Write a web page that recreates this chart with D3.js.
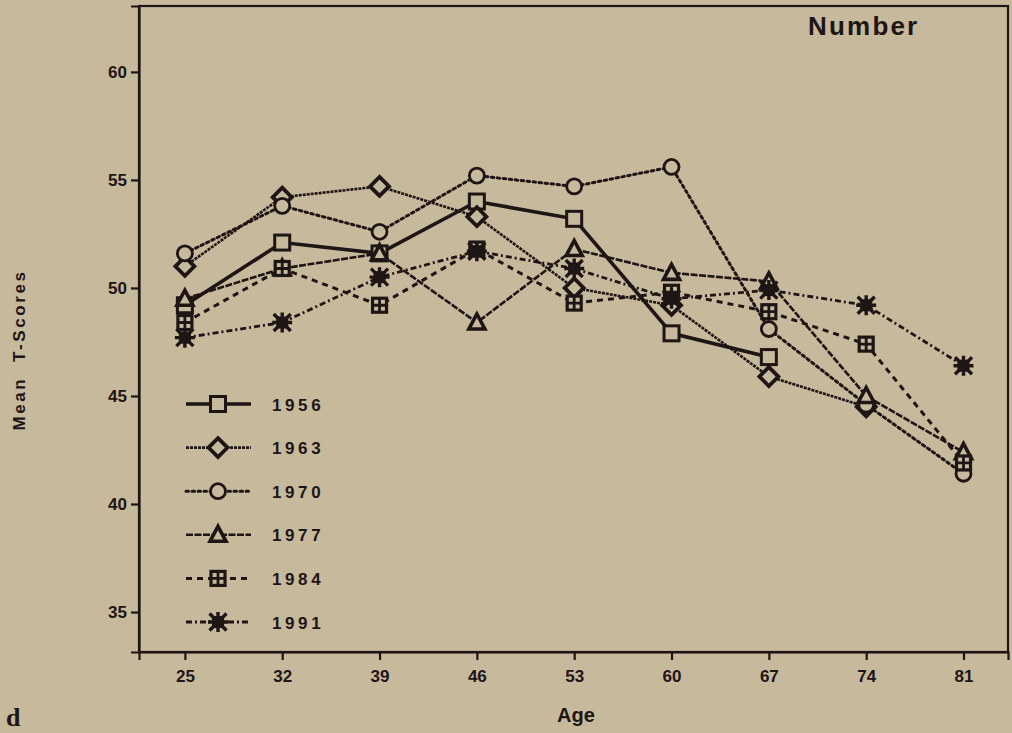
<!DOCTYPE html>
<html>
<head>
<meta charset="utf-8">
<style>
  body { margin: 0; background: #c6b99c; }
  svg { display: block; }
  text { font-family: "Liberation Sans", Arial, sans-serif; font-weight: bold; fill: #1e1515; }
</style>
</head>
<body>
<svg width="1012" height="733"></svg>
<script src="https://d3js.org/d3.v7.min.js"></script>
<script>

// ages at measurement, one column per tick
const ages = [25, 32, 39, 46, 53, 60, 67, 74, 81];
const yTicks = [35, 40, 45, 50, 55, 60];

// mean T-scores per cohort year (null = not measured)
const years = ["1956", "1963", "1970", "1977", "1984", "1991"];
const s1956 = [49.2, 52.1, 51.6, 54.0, 53.2, 47.9, 46.8, null, null];
const s1963 = [51.0, 54.2, 54.7, 53.3, 50.0, 49.2, 45.9, 44.5, null];
const s1970 = [51.6, 53.8, 52.6, 55.2, 54.7, 55.6, 48.1, 44.6, 41.4];
const s1977 = [49.5, 50.9, 51.6, 48.4, 51.8, 50.7, 50.3, 45.0, 42.4];
const s1984 = [48.4, 50.9, 49.2, 51.8, 49.3, 49.8, 48.9, 47.4, 41.9];
const s1991 = [47.7, 48.4, 50.5, 51.7, 50.9, 49.5, 49.9, 49.2, 46.4];

const ink = "#1e1515";
const bg = "#c6b99c";

const series = [
  { name: years[0], values: s1956, marker: "square",   dash: null,        width: 3.6 },
  { name: years[1], values: s1963, marker: "diamond",  dash: "3,1",       width: 2.6 },
  { name: years[2], values: s1970, marker: "circle",   dash: "2.5,3.5",   width: 3 },
  { name: years[3], values: s1977, marker: "triangle", dash: "7,1.5",     width: 2.6 },
  { name: years[4], values: s1984, marker: "boxcross", dash: "6,5",       width: 3 },
  { name: years[5], values: s1991, marker: "star",     dash: "6,3,2,3",   width: 2.8 },
];

const svg = d3.select("svg");

const x = d3.scaleLinear().domain([21.7, 84.2]).range([139, 1008]);
const y = d3.scaleLinear().domain([33.15, 63.05]).range([652, 6]);

// frame
svg.append("rect")
  .attr("x", 139).attr("y", 6)
  .attr("width", 1008 - 139).attr("height", 652 - 6)
  .attr("fill", "none")
  .attr("stroke", ink)
  .attr("stroke-width", 2.2);

// axes
const xAxis = svg.append("g")
  .attr("transform", "translate(0,652)")
  .call(d3.axisBottom(x).tickValues(ages).tickSize(8).tickPadding(10));

const yAxis = svg.append("g")
  .attr("transform", "translate(139,0)")
  .call(d3.axisLeft(y).tickValues(yTicks).tickSize(8).tickPadding(4));

[xAxis, yAxis].forEach(function(a) {
  a.select(".domain").attr("stroke", ink).attr("stroke-width", 2.2);
  a.selectAll(".tick line").attr("stroke", ink).attr("stroke-width", 2.2);
  a.selectAll(".tick text")
    .attr("fill", ink)
    .style("font-size", "17px")
    .style("font-family", "'Liberation Sans', Arial, sans-serif")
    .style("font-weight", "bold");
});

// lines
const line = d3.line()
  .defined(function(d) { return d.v !== null; })
  .x(function(d) { return x(d.age); })
  .y(function(d) { return y(d.v); });

function points(s) {
  return ages.map(function(a, i) { return { age: a, v: s.values[i] }; });
}

svg.append("g")
  .selectAll("path")
  .data(series)
  .enter()
  .append("path")
  .attr("fill", "none")
  .attr("stroke", ink)
  .attr("stroke-width", function(d) { return d.width; })
  .attr("stroke-dasharray", function(d) { return d.dash; })
  .attr("stroke-linecap", function(d) { return d.marker === "circle" ? "round" : "butt"; })
  .attr("d", function(d) { return line(points(d)); });

// marker shapes
function drawMarker(g, type, cx, cy) {
  const m = g.append("g").attr("transform", "translate(" + cx + "," + cy + ")");
  if (type === "square") {
    m.append("rect").attr("x", -7.5).attr("y", -7.5).attr("width", 15).attr("height", 15)
      .attr("fill", bg).attr("stroke", ink).attr("stroke-width", 3);
  } else if (type === "diamond") {
    m.append("path").attr("d", "M0,-9.5L9.5,0L0,9.5L-9.5,0Z")
      .attr("fill", bg).attr("stroke", ink).attr("stroke-width", 3.8);
  } else if (type === "circle") {
    m.append("circle").attr("r", 7.5)
      .attr("fill", bg).attr("stroke", ink).attr("stroke-width", 2.8);
  } else if (type === "triangle") {
    m.append("path").attr("d", "M0,-8.5L8,6.5L-8,6.5Z")
      .attr("fill", bg).attr("stroke", ink).attr("stroke-width", 3.6)
      .attr("stroke-linejoin", "miter");
  } else if (type === "boxcross") {
    m.append("rect").attr("x", -7).attr("y", -7).attr("width", 14).attr("height", 14)
      .attr("fill", bg).attr("stroke", ink).attr("stroke-width", 3.2);
    m.append("path").attr("d", "M-7,0H7M0,-7V7")
      .attr("stroke", ink).attr("stroke-width", 2.8);
  } else if (type === "star") {
    m.append("rect").attr("x", -6).attr("y", -6).attr("width", 12).attr("height", 12)
      .attr("fill", ink);
    m.append("path").attr("d", "M-8.5,-8.5L8.5,8.5M-8.5,8.5L8.5,-8.5M0,-10V10M-10,0H10")
      .attr("stroke", ink).attr("stroke-width", 3.4);
  }
}

const markers = svg.append("g");
series.forEach(function(s) {
  points(s).forEach(function(p) {
    if (p.v !== null) drawMarker(markers, s.marker, x(p.age), y(p.v));
  });
});

// legend
const legend = svg.append("g");
series.forEach(function(s, i) {
  const ly = 404 + i * 43.6;
  legend.append("line")
    .attr("x1", 186).attr("x2", 251)
    .attr("y1", ly).attr("y2", ly)
    .attr("stroke", ink)
    .attr("stroke-width", s.width)
    .attr("stroke-dasharray", s.dash)
    .attr("stroke-linecap", s.marker === "circle" ? "round" : "butt");
  drawMarker(legend, s.marker, 218, ly);
  legend.append("text")
    .attr("x", 272).attr("y", ly + 6.5)
    .attr("font-size", 17)
    .attr("letter-spacing", 3.6)
    .text(s.name);
});

// titles
svg.append("text")
  .attr("x", 808).attr("y", 35)
  .attr("font-size", 26)
  .attr("letter-spacing", 2.2)
  .text("Number");

svg.append("text")
  .attr("x", 576).attr("y", 722)
  .attr("text-anchor", "middle")
  .attr("font-size", 20)
  .text("Age");

svg.append("text")
  .attr("transform", "translate(25,350) rotate(-90)")
  .attr("text-anchor", "middle")
  .attr("font-size", 17)
  .attr("letter-spacing", 2.6)
  .attr("xml:space", "preserve")
  .text("Mean  T-Scores");

svg.append("text")
  .attr("x", 6).attr("y", 726)
  .attr("font-size", 26)
  .style("font-family", "'Liberation Serif', 'Times New Roman', serif")
  .text("d");

</script>
</body>
</html>
